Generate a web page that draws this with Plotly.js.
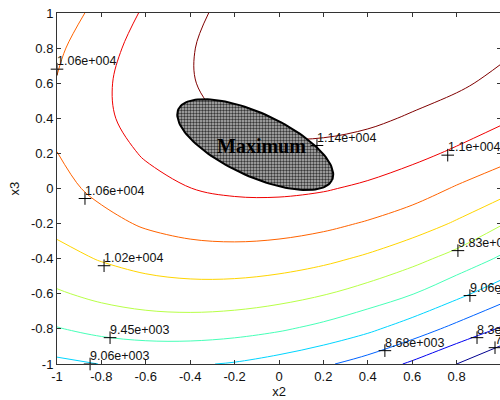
<!DOCTYPE html>
<html><head><meta charset="utf-8">
<script src="https://cdn.plot.ly/plotly-3.0.1.min.js"></script>
<style>html,body{margin:0;padding:0;overflow:hidden;background:#fff}#chart{width:502px;height:400px}</style>
</head><body><div id="chart"></div>
<script>
// grid coordinates
const x2Vals = [-1, -0.8, -0.6, -0.4, -0.2, 0, 0.2, 0.4, 0.6, 0.8, 1];
const x3Vals = [-1, -0.8, -0.6, -0.4, -0.2, 0, 0.2, 0.4, 0.6, 0.8, 1];
// estimated response values, one row per x3 value (bottom to top)
const zRowM10 = [8977, 9072, 9114, 9102, 9036, 8911, 8740, 8520, 8240, 7918, 7538];
const zRowM08 = [9427, 9551, 9617, 9629, 9588, 9493, 9345, 9143, 8875, 8573, 8262];
const zRowM06 = [9787, 9926, 10018, 10057, 10042, 9974, 9852, 9677, 9460, 9164, 8852];
const zRowM04 = [10084, 10239, 10359, 10424, 10436, 10394, 10299, 10150, 9945, 9696, 9395];
const zRowM02 = [10318, 10492, 10638, 10730, 10768, 10753, 10684, 10561, 10400, 10169, 9857];
const zRowP00 = [10487, 10684, 10856, 10974, 11039, 11050, 11008, 10912, 10770, 10560, 10360];
const zRowP02 = [10593, 10820, 11012, 11157, 11249, 11286, 11270, 11201, 11077, 10919, 10735];
const zRowP04 = [10635, 10915, 11108, 11279, 11397, 11461, 11472, 11429, 11325, 11201, 11039];
const zRowP06 = [10614, 10922, 11142, 11340, 11484, 11575, 11612, 11596, 11517, 11420, 11268];
const zRowP08 = [10529, 10858, 11115, 11340, 11511, 11628, 11691, 11701, 11650, 11578, 11437];
const zRowP10 = [10380, 10723, 11027, 11278, 11475, 11619, 11709, 11745, 11722, 11675, 11543];

// contour levels
const levelStart = 7917.5;
const levelEnd = 11360;
const levelStep = 382.5;

// contour label anchors ("+" marks) and texts
const labelX2 = [-1.0, -0.874, 0.171, 0.76, -0.788, -0.761, -0.851, 0.806, 0.86, 0.477, 0.892, 0.973];
const labelX3 = [0.68, -0.057, 0.245, 0.19, -0.44, -0.85, -1.0, -0.354, -0.61, -0.924, -0.85, -0.907];
const labelText = ['1.06e+004', '1.06e+004', '1.14e+004', '1.1e+004', '1.02e+004', '9.45e+003',
                   '9.06e+003', '9.83e+003', '9.06e+003', '8.68e+003', '8.3e+003', '7.92e+003'];

// ticks
const tickVals = [-1, -0.8, -0.6, -0.4, -0.2, 0, 0.2, 0.4, 0.6, 0.8, 1];
const tickText = ['-1', '-0.8', '-0.6', '-0.4', '-0.2', '0', '0.2', '0.4', '0.6', '0.8', '1'];

const annotationText = 'Maximum';
const annotationPos = {x2: -0.079, x3: 0.245};

// ---- styling / layout ----
const W = 502, H = 400;
const M = {l: 57, r: 1, t: 13, b: 36};
const jet = ['#00008f', '#0000f0', '#0063ff', '#00d5ff', '#47ffb8', '#b8ff47', '#ffd500', '#ff6300', '#f00000', '#800000'];
const colorscale = jet.map((c, i) => [i / (jet.length - 1), c]);

const zGrid = [zRowM10, zRowM08, zRowM06, zRowM04, zRowM02, zRowP00, zRowP02, zRowP04, zRowP06, zRowP08, zRowP10];

// ellipse outline (decoration), defined in pixels and mapped to data units
const pxPerX = (W - M.l - M.r) / 2, pxPerY = (H - M.t - M.b) / 2;
const ell = {cx: -0.107, cy: 0.25, a: 84.6, b: 31.5, deg: 24.7};
const ex = [], ey = [];
const th = ell.deg * Math.PI / 180;
for (let k = 0; k <= 144; k++) {
  const t = 2 * Math.PI * k / 144;
  const u = ell.a * Math.cos(t) * Math.cos(th) - ell.b * Math.sin(t) * Math.sin(th);
  const v = ell.a * Math.cos(t) * Math.sin(th) + ell.b * Math.sin(t) * Math.cos(th);
  ex.push(ell.cx + u / pxPerX);
  ey.push(ell.cy - v / pxPerY);
}

const font = 'Liberation Sans, Arial, sans-serif';

const traces = [
  {
    type: 'contour', x: x2Vals, y: x3Vals, z: zGrid,
    autocontour: false,
    contours: {start: levelStart, end: levelEnd, size: levelStep, coloring: 'lines', showlabels: false},
    colorscale: colorscale, showscale: false,
    line: {width: 1, smoothing: 1},
    hoverinfo: 'skip'
  },
  {
    type: 'scatter', mode: 'lines', x: ex, y: ey,
    fill: 'toself', fillcolor: '#b0b0b0',
    fillpattern: {shape: '.', bgcolor: '#b8b8b8', fgcolor: '#383838', size: 3, solidity: 0.5},
    line: {color: '#000', width: 2}, hoverinfo: 'skip', showlegend: false
  },
  {
    type: 'scatter', mode: 'markers', x: labelX2, y: labelX3,
    marker: {symbol: 'cross-thin', size: 9, color: '#000', line: {width: 1, color: '#000'}},
    cliponaxis: false, hoverinfo: 'skip', showlegend: false
  }
];

const annotations = labelText.map((t, i) => ({
  x: labelX2[i], y: labelX3[i], text: t, showarrow: false,
  xanchor: 'left', yanchor: 'bottom', xshift: -2, yshift: -1,
  font: {family: font, size: 12.5, color: '#111'}
}));
annotations.push({
  x: annotationPos.x2, y: annotationPos.x3, text: annotationText, showarrow: false,
  xanchor: 'center', yanchor: 'middle',
  font: {family: 'Liberation Serif, Times New Roman, serif', size: 20, color: '#000', weight: 'bold'}
});

const axisCommon = {
  range: [-1, 1], tickmode: 'array', tickvals: tickVals, ticktext: tickText,
  ticks: 'inside', ticklen: 4, tickcolor: '#333', tickwidth: 1,
  showline: true, linecolor: '#333', linewidth: 1, mirror: 'ticks',
  showgrid: false, zeroline: false,
  tickfont: {family: font, size: 13, color: '#111'}
};

const layout = {
  width: W, height: H, margin: M,
  paper_bgcolor: '#fff', plot_bgcolor: '#fff',
  showlegend: false,
  xaxis: Object.assign({}, axisCommon, {title: {text: 'x2', font: {family: font, size: 13, color: '#111'}, standoff: 4}}),
  yaxis: Object.assign({}, axisCommon, {title: {text: 'x3', font: {family: font, size: 13, color: '#111'}, standoff: 8}}),
  annotations: annotations
};

Plotly.newPlot('chart', traces, layout, {staticPlot: true, displayModeBar: false});
</script>
</body></html>
